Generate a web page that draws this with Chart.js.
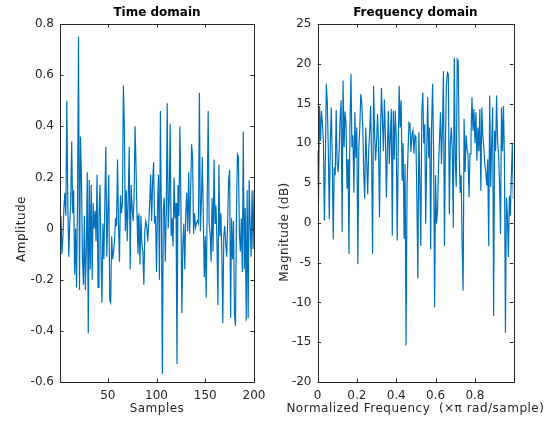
<!DOCTYPE html>
<html>
<head>
<meta charset="utf-8">
<script src="https://cdn.jsdelivr.net/npm/chart.js@4.4.1/dist/chart.umd.min.js"></script>
<style>
  html, body { margin: 0; padding: 0; background: #fff; }
  #wrap { position: relative; width: 550px; height: 426px; }
  .box { position: absolute; top: 0; height: 426px; }
  #left { left: 0; width: 275px; }
  #right { left: 275px; width: 275px; }
</style>
</head>
<body>
<div id="wrap">
  <div class="box" id="left"><canvas id="timeChart"></canvas></div>
  <div class="box" id="right"><canvas id="freqChart"></canvas></div>
</div>
<script>
// time domain signal, samples 1..200
const timeValues = [
  -0.02, 0.05, -0.10, -0.03, 0.08, 0.14, 0.05, 0.50, 0.10, -0.11,
  0.02, 0.10, 0.34, 0.06, 0.15, -0.18, 0.00, -0.23, 0.12, 0.75,
  -0.24, 0.36, 0.20, -0.11, -0.22, 0.05, -0.24, -0.08, 0.22, -0.41,
  0.19, -0.16, 0.17, -0.20, 0.10, 0.00, 0.07, -0.05, 0.21, -0.23,
  0.05, 0.17, -0.10, -0.29, 0.02, -0.12, 0.10, 0.32, -0.11, 0.05,
  0.21, -0.28, -0.29, -0.03, -0.12, -0.09, -0.04, 0.04, 0.01, 0.27,
  0.02, -0.13, 0.13, 0.06, 0.10, 0.56, 0.40, -0.01, 0.15, -0.05,
  0.12, 0.32, -0.16, 0.17, 0.08, 0.03, 0.12, 0.40, 0.24, 0.05,
  -0.10, 0.06, -0.14, 0.05, -0.06, -0.09, -0.22, -0.01, 0.03, 0.01,
  -0.05, 0.02, 0.10, 0.21, 0.03, 0.18, 0.26, 0.02, 0.05, -0.17,
  0.08, 0.21, -0.20, 0.46, 0.05, -0.57, 0.08, 0.12, -0.13, 0.06,
  0.49, 0.00, 0.10, 0.41, -0.03, 0.04, -0.07, 0.20, 0.04, 0.10,
  -0.53, 0.17, 0.05, 0.40, 0.10, -0.33, -0.07, 0.02, -0.16, 0.06,
  0.14, -0.01, 0.22, -0.02, 0.15, 0.33, 0.28, -0.02, 0.06, 0.005,
  0.02, 0.03, 0.02, 0.53, -0.01, 0.10, 0.28, 0.05, -0.19, -0.03,
  -0.27, 0.10, 0.46, 0.02, -0.02, -0.13, 0.12, -0.09, 0.27, 0.02,
  0.09, -0.05, -0.30, 0.25, -0.03, 0.06, -0.10, -0.37, -0.03, 0.01,
  -0.06, -0.11, 0.03, 0.19, 0.23, -0.35, 0.04, -0.12, 0.03, -0.34,
  -0.38, 0.05, 0.29, 0.28, -0.02, -0.09, 0.04, -0.17, 0.38, -0.16,
  0.08, -0.36, 0.15, -0.35, 0.19, 0.02, -0.11, 0.15, -0.08, 0.15
];

// magnitude in dB, 200 frequency bins
const freqValues = [
  9.1, 2.4, 14.7, 10.3, 14.1, 12.5, 10.1, 0.3, 8.0, 17.5,
  15.0, 9.0, 0.5, 10.0, 14.5, 8.2, -2.1, 7.0, 6.0, 14.2,
  7.4, 6.4, 9.0, 13.3, 15.4, -1.1, 17.9, 9.5, 14.0, 12.4,
  4.3, 8.0, -3.9, 12.4, 18.7, 9.5, 11.0, 3.8, 13.9, 8.2,
  12.0, -5.2, 9.5, 12.0, 16.2, 15.0, 12.0, 6.1, 3.0, 12.0,
  8.0, 3.6, 9.0, 11.4, 14.7, 8.0, -3.9, 17.2, 11.6, 7.8,
  10.0, 13.7, 10.1, 0.7, 10.8, 17.0, 13.0, 9.0, 15.5, 11.2,
  3.2, 9.0, 14.1, 7.4, 11.0, 14.3, -1.6, 14.1, 8.0, 14.1,
  10.8, -2.2, 9.0, 17.2, 12.0, 15.4, 5.3, 10.0, -2.0, 7.4,
  -15.4, 4.5, 9.0, 12.6, 12.4, 8.9, 11.0, 11.6, 8.7, 11.0,
  10.8, 3.0, -7.0, 11.4, 5.0, -2.9, 13.9, 16.4, 10.0, 12.4,
  -0.1, 9.0, 15.8, 8.2, 12.0, -3.3, 12.4, 17.5, 9.0, -10.6,
  6.0, -0.1, 1.5, 7.0, 10.5, 13.9, 7.4, 12.0, 19.1, -2.9,
  10.0, 17.2, 18.9, 18.7, 1.1, 10.1, 12.0, 9.1, -0.6, 20.8,
  8.0, 4.5, 20.6, 20.4, 9.1, 3.8, 6.0, -2.6, -8.5, 13.1,
  6.4, 11.0, 9.3, 8.5, 3.2, 8.7, 11.0, 15.8, 11.6, 14.3,
  10.0, 13.9, 7.8, 12.0, 9.0, 14.3, 4.0, 14.5, 11.0, 9.5,
  7.4, 6.4, 4.7, 8.0, -2.9, 16.0, 4.5, 10.0, 14.5, -11.7,
  11.6, 9.0, 16.0, 10.3, 8.7, 5.0, -1.4, 14.5, 9.0, 14.7,
  7.8, -13.8, 3.2, 1.0, -4.3, 3.4, 0.9, 6.0, 9.9, 3.0
];

const sampleIndex = timeValues.map((v, i) => i + 1);
const normFreq = freqValues.map((v, i) => i / 200);

const timeXTicks = [50, 100, 150, 200];
const timeYTicks = [-0.6, -0.4, -0.2, 0, 0.2, 0.4, 0.6, 0.8];
const freqXTicks = [0, 0.2, 0.4, 0.6, 0.8];
const freqYTicks = [-20, -15, -10, -5, 0, 5, 10, 15, 20, 25];

const FONT = "'DejaVu Sans', 'Liberation Sans', Arial, sans-serif";
const AXIS_COLOR = '#262626';
const LINE_COLOR = '#0072BD';

// box around the axes, inward tick marks and the axis labels
const boxPlugin = {
  id: 'matlabBox',
  afterDraw(chart, args, opts) {
    const ctx = chart.ctx;
    const a = chart.chartArea;
    const xs = chart.scales.x;
    const ys = chart.scales.y;
    const tl = 3.5;
    ctx.save();
    ctx.strokeStyle = AXIS_COLOR;
    ctx.lineWidth = 1;
    ctx.strokeRect(Math.round(a.left) + 0.5, Math.round(a.top) + 0.5,
      Math.round(a.right - a.left), Math.round(a.bottom - a.top));
    ctx.beginPath();
    xs.ticks.forEach(t => {
      const px = Math.round(xs.getPixelForValue(t.value)) + 0.5;
      ctx.moveTo(px, a.bottom); ctx.lineTo(px, a.bottom - tl);
      ctx.moveTo(px, a.top); ctx.lineTo(px, a.top + tl);
    });
    ys.ticks.forEach(t => {
      const py = Math.round(ys.getPixelForValue(t.value)) + 0.5;
      ctx.moveTo(a.left, py); ctx.lineTo(a.left + tl, py);
      ctx.moveTo(a.right, py); ctx.lineTo(a.right - tl, py);
    });
    ctx.stroke();

    ctx.fillStyle = AXIS_COLOR;
    ctx.font = '12px ' + FONT;
    ctx.letterSpacing = '0.5px';
    ctx.textAlign = 'center';
    ctx.textBaseline = 'middle';
    ctx.fillText(opts.xLabel, (a.left + a.right) / 2, opts.xLabelY);

    ctx.translate(opts.yLabelX, opts.yLabelY);
    ctx.rotate(-Math.PI / 2);
    ctx.fillText(opts.yLabel, 0, 0);
    ctx.restore();
  }
};

function makeChart(canvasId, cfg) {
  const ctx = document.getElementById(canvasId).getContext('2d');
  return new Chart(ctx, {
    type: 'line',
    data: {
      datasets: [{
        data: cfg.xs.map((x, i) => ({ x: x, y: cfg.ys[i] })),
        borderColor: LINE_COLOR,
        borderWidth: 1.2,
        pointRadius: 0,
        tension: 0,
        fill: false
      }]
    },
    plugins: [boxPlugin],
    options: {
      responsive: true,
      maintainAspectRatio: false,
      animation: false,
      layout: { padding: { left: 0, right: cfg.padRight, top: 0, bottom: 0 } },
      plugins: {
        legend: { display: false },
        tooltip: { enabled: false },
        title: {
          display: true,
          text: cfg.title,
          fullSize: false,
          color: '#000',
          font: { family: FONT, size: 12, weight: 'bold' },
          padding: { top: 6, bottom: 3.6 }
        },
        matlabBox: {
          xLabel: cfg.xLabel, xLabelY: 409,
          yLabel: cfg.yLabel, yLabelX: cfg.yLabelX, yLabelY: cfg.yLabelY
        }
      },
      scales: {
        x: {
          type: 'linear',
          min: cfg.xMin,
          max: cfg.xMax,
          grid: { display: false, drawTicks: false },
          border: { display: false },
          afterBuildTicks: s => { s.ticks = cfg.xTicks.map(v => ({ value: v })); },
          afterFit: s => { s.height = 44; },
          ticks: {
            color: AXIS_COLOR,
            font: { family: FONT, size: 12 },
            padding: 7,
            maxRotation: 0,
            callback: v => String(v)
          }
        },
        y: {
          type: 'linear',
          min: cfg.yMin,
          max: cfg.yMax,
          grid: { display: false, drawTicks: false },
          border: { display: false },
          afterBuildTicks: s => { s.ticks = cfg.yTicks.map(v => ({ value: v })); },
          afterFit: s => { s.width = cfg.yWidth; },
          ticks: {
            color: AXIS_COLOR,
            font: { family: FONT, size: 12 },
            padding: 6,
            callback: v => String(v)
          }
        }
      }
    }
  });
}

makeChart('timeChart', {
  xs: sampleIndex, ys: timeValues,
  title: 'Time domain', xLabel: 'Samples', yLabel: 'Amplitude',
  yLabelX: 22, yLabelY: 229,
  xMin: 1, xMax: 200, yMin: -0.6, yMax: 0.8,
  xTicks: timeXTicks, yTicks: timeYTicks,
  yWidth: 60, padRight: 21
});

makeChart('freqChart', {
  xs: normFreq, ys: freqValues,
  title: 'Frequency domain', xLabel: 'Normalized Frequency  (\u00d7\u03c0 rad/sample)', yLabel: 'Magnitude (dB)',
  yLabelX: 10, yLabelY: 232,
  xMin: 0, xMax: 0.995, yMin: -20, yMax: 25,
  xTicks: freqXTicks, yTicks: freqYTicks,
  yWidth: 42.5, padRight: 36.7
});
</script>
</body>
</html>
